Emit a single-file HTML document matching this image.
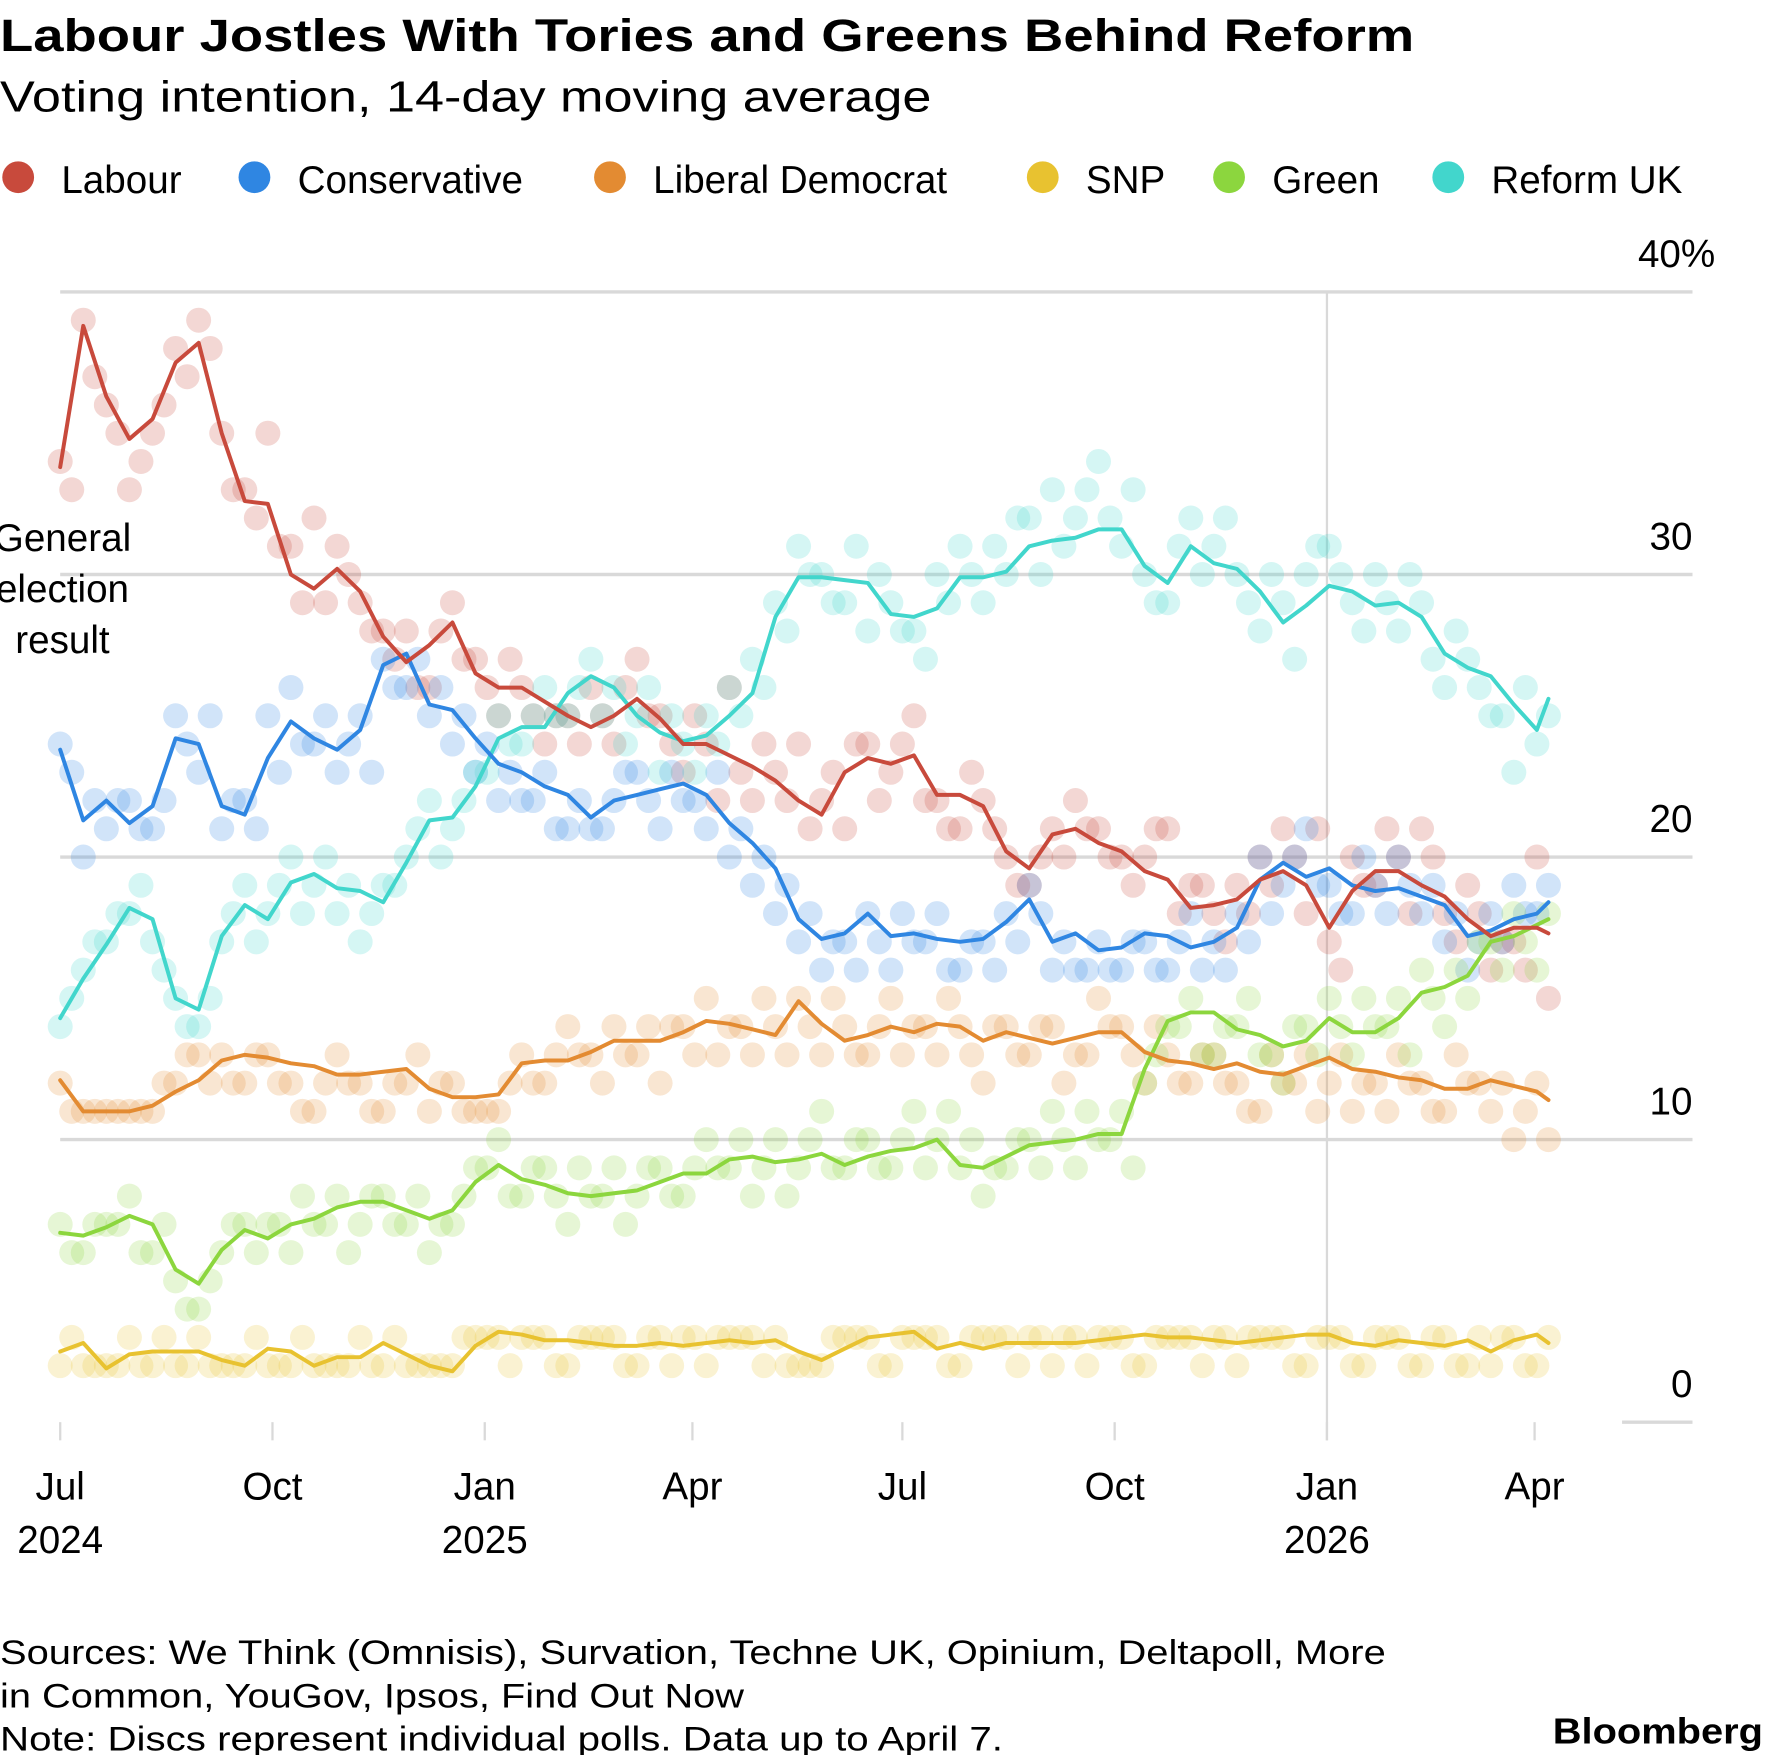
<!DOCTYPE html>
<html><head><meta charset="utf-8">
<style>
html,body{margin:0;padding:0;background:#fff;}
svg{display:block;font-family:"Liberation Sans",sans-serif;}
</style></head>
<body>
<svg id="chart" width="1772" height="1755" viewBox="0 0 1560 1545" xmlns="http://www.w3.org/2000/svg">
<text x="0" y="45" font-size="40" font-weight="bold" textLength="1245" lengthAdjust="spacingAndGlyphs">Labour Jostles With Tories and Greens Behind Reform</text>
<text x="0" y="98" font-size="38" textLength="820" lengthAdjust="spacingAndGlyphs">Voting intention, 14-day moving average</text>
<g id="legend"></g>
<g id="grid"></g>
<g id="discs"></g>
<g id="lines"></g>
<g id="axes"></g>
<g font-size="34" text-anchor="middle">
<text x="55" y="485">General</text><text x="55" y="530">election</text><text x="55" y="575">result</text>
</g>
<g font-size="30">
<text x="0" y="1465" textLength="1220" lengthAdjust="spacingAndGlyphs">Sources: We Think (Omnisis), Survation, Techne UK, Opinium, Deltapoll, More</text>
<text x="0" y="1503" textLength="655" lengthAdjust="spacingAndGlyphs">in Common, YouGov, Ipsos, Find Out Now</text>
<text x="0" y="1541" textLength="883" lengthAdjust="spacingAndGlyphs">Note: Discs represent individual polls. Data up to April 7.</text>
<text x="1552" y="1535" text-anchor="end" font-weight="bold" font-size="32" textLength="185" lengthAdjust="spacingAndGlyphs">Bloomberg</text>
</g>
</svg>
<script>
// ---- data ----
const parties = ["Labour","Conservative","Liberal Democrat","SNP","Green","Reform UK"];
const colors = ["#c84a3c","#2f86e2","#e38b32","#e8c230","#8cd63e","#42d6cc"];
const lineDays = [];
for (let k=0;k<=64;k++) lineDays.push(k*10);
lineDays.push(645);
const labourLine = [33.8,38.8,36.3,34.8,35.5,37.5,38.2,35,32.6,32.5,30,29.5,30.2,29.4,27.8,26.9,27.5,28.3,26.5,26,26,25.5,25,24.6,25,25.6,24.9,24,24,23.6,23.2,22.7,22,21.5,23,23.5,23.3,23.6,22.2,22.2,21.8,20.2,19.6,20.8,21,20.5,20.2,19.5,19.2,18.2,18.3,18.5,19.2,19.5,19,17.5,18.8,19.5,19.5,19,18.6,17.8,17.2,17.5,17.5,17.3];
const conLine = [23.8,21.3,22,21.2,21.8,24.2,24,21.8,21.5,23.5,24.8,24.2,23.8,24.5,26.8,27.2,25.4,25.2,24.2,23.3,23,22.5,22.2,21.4,22,22.2,22.4,22.6,22.2,21.2,20.5,19.6,17.8,17.1,17.3,18,17.2,17.3,17.1,17.0,17.1,17.7,18.5,17.0,17.3,16.7,16.8,17.3,17.2,16.8,17.0,17.5,19.2,19.8,19.3,19.6,19.0,18.8,18.9,18.6,18.3,17.2,17.4,17.8,18.0,18.4];
const ldLine = [12.1,11,11,11,11.2,11.7,12.1,12.8,13,12.9,12.7,12.6,12.3,12.3,12.4,12.5,11.8,11.5,11.5,11.6,12.7,12.8,12.8,13.1,13.5,13.5,13.5,13.8,14.2,14.1,13.9,13.7,14.9,14.1,13.5,13.7,14,13.8,14.1,14,13.5,13.8,13.6,13.4,13.6,13.8,13.8,13.1,12.8,12.7,12.5,12.7,12.4,12.3,12.6,12.9,12.5,12.4,12.2,12.1,11.8,11.8,12.1,11.9,11.7,11.4];
const snpLine = [2.5,2.8,1.9,2.4,2.5,2.5,2.5,2.2,2.0,2.6,2.5,2.0,2.3,2.3,2.8,2.4,2.0,1.8,2.7,3.2,3.1,2.9,2.9,2.8,2.7,2.7,2.8,2.7,2.8,2.9,2.8,2.9,2.5,2.2,2.6,3.0,3.1,3.2,2.6,2.8,2.6,2.8,2.8,2.8,2.8,2.9,3.0,3.1,3.0,3.0,2.9,2.8,2.9,3.0,3.1,3.1,2.8,2.7,2.9,2.8,2.7,2.9,2.5,2.9,3.1,2.8];
const greenLine = [6.7,6.6,6.9,7.3,7.0,5.4,4.9,6.1,6.8,6.5,7,7.2,7.6,7.8,7.8,7.5,7.2,7.5,8.5,9.1,8.6,8.4,8.1,8.0,8.1,8.2,8.5,8.8,8.8,9.3,9.4,9.2,9.3,9.5,9.1,9.4,9.6,9.7,10.0,9.1,9.0,9.4,9.8,9.9,10.0,10.2,10.2,12.5,14.2,14.5,14.5,13.9,13.7,13.3,13.5,14.3,13.8,13.8,14.3,15.2,15.4,15.8,17,17.2,17.6,17.8];
const reformLine = [14.3,15.7,16.9,18.2,17.8,15.0,14.6,17.2,18.3,17.8,19.1,19.4,18.9,18.8,18.4,19.8,21.3,21.4,22.5,24.2,24.6,24.6,25.8,26.4,26.0,25.0,24.4,24.1,24.3,25,25.8,28.5,29.9,29.9,29.8,29.7,28.6,28.5,28.8,29.9,29.9,30.1,31.0,31.2,31.3,31.6,31.6,30.3,29.7,31.0,30.4,30.2,29.4,28.3,28.9,29.6,29.4,28.9,29.0,28.5,27.2,26.7,26.4,25.4,24.5,25.6];
// polls: set A on days k*10, set B on days k*10+5
const labourPollsA = [34,39,36,33,35,38,39,35,33,35,31,32,31,29,28,28,26,29,27,25,26,24,25,26,24,27,25,23,24,26,22,23,24,22,21,24,23,25,22,21,22,20,19,21,22,21,20,20,21,19,18,19,20,21,18,17,20,19,20,21,18,19,16,17,20];
const labourPollsB = [33,37,35,34,36,37,38,33,32,31,29,29,30,28,27,26,28,27,26,27,25,25,24,25,26,25,24,25,22,23,24,22,21,23,24,22,24,22,21,23,21,19,20,20,21,20,19,21,18,19,17,18,19,20,21,16,19,21,18,20,17,18,17,16,15];
const conPollsA = [24,20,21,22,21,25,23,21,22,25,26,24,23,25,27,26,25,24,23,22,22,23,21,21,22,23,21,22,21,20,19,18,17,16,17,18,16,17,18,16,17,18,19,16,16,17,16,17,16,18,17,18,20,19,21,19,18,19,20,18,17,16,18,19,18];
const conPollsB = [23,22,22,21,22,24,25,22,21,23,24,25,24,23,26,27,26,25,24,23,22,21,22,21,23,22,23,22,23,21,20,19,18,17,16,17,18,17,16,17,16,17,18,17,16,16,17,16,17,16,16,17,18,20,19,18,20,18,19,19,18,17,17,18,19];
const ldPollsA = [12,11,11,11,11,12,13,13,12,13,12,11,13,12,11,12,11,12,11,11,13,12,14,13,14,13,12,14,15,14,13,14,15,13,14,13,15,14,13,14,12,14,13,14,13,15,14,12,13,12,13,12,11,12,13,12,11,12,13,12,11,12,11,10,12];
const ldPollsB = [11,11,11,11,12,13,12,12,13,12,11,12,12,11,12,13,12,11,11,12,12,13,13,12,13,14,14,13,13,14,15,13,14,15,13,14,13,14,15,13,14,13,14,12,13,14,13,14,12,13,12,11,13,12,11,13,12,11,12,11,13,12,12,11,10];
const snpPollsA = [2,2,2,3,2,2,3,2,2,2,2,2,2,3,2,2,2,2,3,3,3,3,2,3,3,2,3,3,2,3,3,3,2,2,3,3,2,3,3,2,3,3,3,2,3,3,3,2,3,3,3,2,3,3,2,3,2,3,3,2,3,2,2,3,2];
const snpPollsB = [3,2,2,2,3,2,2,2,3,2,3,2,2,2,3,2,2,3,3,2,3,2,3,3,2,3,2,3,3,3,2,2,2,3,3,2,3,3,2,3,3,2,3,3,2,3,2,3,3,2,3,3,3,2,3,3,2,3,2,3,2,3,3,2,3];
const greenPollsA = [7,6,7,8,6,5,4,6,7,7,6,7,8,7,8,7,6,7,9,10,8,9,7,8,9,8,9,8,10,9,8,10,9,11,9,10,9,11,10,9,8,9,10,11,9,10,11,12,14,15,13,14,13,12,14,15,13,14,15,16,14,15,17,18,16];
const greenPollsB = [6,7,7,6,7,4,5,7,6,7,8,7,6,8,7,8,7,8,9,8,9,8,9,8,7,9,8,9,9,10,9,8,10,9,10,9,10,9,11,10,9,10,9,10,11,10,9,13,14,13,14,15,13,14,13,14,15,14,13,15,16,17,16,17,18];
const reformPollsA = [14,16,17,18,17,15,14,17,19,18,20,19,18,17,19,20,22,21,23,25,24,26,25,27,26,25,23,24,25,26,27,29,31,30,29,28,29,28,30,31,29,30,32,33,32,34,31,30,29,32,31,30,28,29,30,31,29,30,28,29,26,27,25,23,24];
const reformPollsB = [15,17,18,19,16,14,15,18,17,19,18,20,19,18,19,21,20,22,23,24,25,25,26,25,24,26,25,23,24,25,26,28,30,29,31,30,28,27,29,30,31,32,30,31,33,32,33,29,31,30,32,29,30,27,31,30,28,29,30,27,28,26,25,26,25];
const yTicks = [0,10,20,30,40];
const xTickDays = [0,92,184,274,365,457,549,639];
const xTickMonths = ["Jul","Oct","Jan","Apr","Jul","Oct","Jan","Apr"];
const xTickYears = ["2024","","2025","","","","2026",""];

// ---- scales ----
const X0=53, X1=1351, D1=639, Y0=1252, Y40=257;
function xs(d){return X0+(X1-X0)*d/D1;}
function ys(v){return Y0-(Y0-Y40)*v/40;}
const NS="http://www.w3.org/2000/svg";
function mk(tag,attrs,parent){const e=document.createElementNS(NS,tag);for(const k in attrs)e.setAttribute(k,attrs[k]);parent.appendChild(e);return e;}

const lines=[labourLine,conLine,ldLine,snpLine,greenLine,reformLine];
const pollsA=[labourPollsA,conPollsA,ldPollsA,snpPollsA,greenPollsA,reformPollsA];
const pollsB=[labourPollsB,conPollsB,ldPollsB,snpPollsB,greenPollsB,reformPollsB];
const keys=["labour","conservative","lib-dem","snp","green","reform"];

// legend
const lg=document.getElementById('legend');
const legX=[16,224,537,918,1082,1275];
parties.forEach((p,i)=>{
  const g=mk('g',{},lg);
  
  
  mk('circle',{cx:legX[i],cy:156,r:14,fill:colors[i]},g);
  const t=mk('text',{x:legX[i]+38,y:170,'font-size':34},g);t.textContent=p;
});

// grid
const grid=document.getElementById('grid');
yTicks.forEach(v=>{
  const y=ys(v);
  const l=mk('line',{x1:v===0?1428:X0,x2:1490,y1:y,y2:y,stroke:'#d9d9d9','stroke-width':3},grid);
  
  
  const t=mk('text',{x:1490,y:y-22,'font-size':34,'text-anchor':'end'},grid);
  
  
  t.textContent=String(v);
  if(v===40){t.setAttribute('text-anchor','start');t.setAttribute('x',1442);t.textContent='40%';}
});
const jan26=mk('line',{x1:xs(549),x2:xs(549),y1:Y40,y2:1268,stroke:'#d9d9d9','stroke-width':2},grid);



// discs
const dg=document.getElementById('discs');
for(let i=0;i<6;i++){
  [[pollsA[i],0],[pollsB[i],5]].forEach(([arr,off])=>{
    arr.forEach((v,k)=>{
      const c=mk('circle',{cx:xs(k*10+off),cy:ys(v),r:11,fill:colors[i],'fill-opacity':0.22},dg);
      
      
    });
  });
}

// lines
const lgp=document.getElementById('lines');
const order=[4,3,2,5,1,0];
order.forEach(i=>{
  const d=lines[i].map((v,k)=>(k?'L':'M')+xs(lineDays[k]).toFixed(1)+','+ys(v).toFixed(1)).join(' ');
  const p=mk('path',{d:d,fill:'none',stroke:colors[i],'stroke-width':3.5,'stroke-linejoin':'round','stroke-linecap':'round'},lgp);
  
  
});

// x axis
const ax=document.getElementById('axes');
xTickDays.forEach((d,i)=>{
  const x=xs(d);
  const tk=mk('line',{x1:x,x2:x,y1:1252,y2:1268,stroke:'#d9d9d9','stroke-width':2},ax);
  
  
  const t=mk('text',{x:x,y:1320,'font-size':34,'text-anchor':'middle'},ax);
  
  
  t.textContent=xTickMonths[i];
  if(xTickYears[i]){
    const t2=mk('text',{x:x,y:1367,'font-size':34,'text-anchor':'middle'},ax);
    
    
    t2.textContent=xTickYears[i];
  }
});
</script>
</body></html>
